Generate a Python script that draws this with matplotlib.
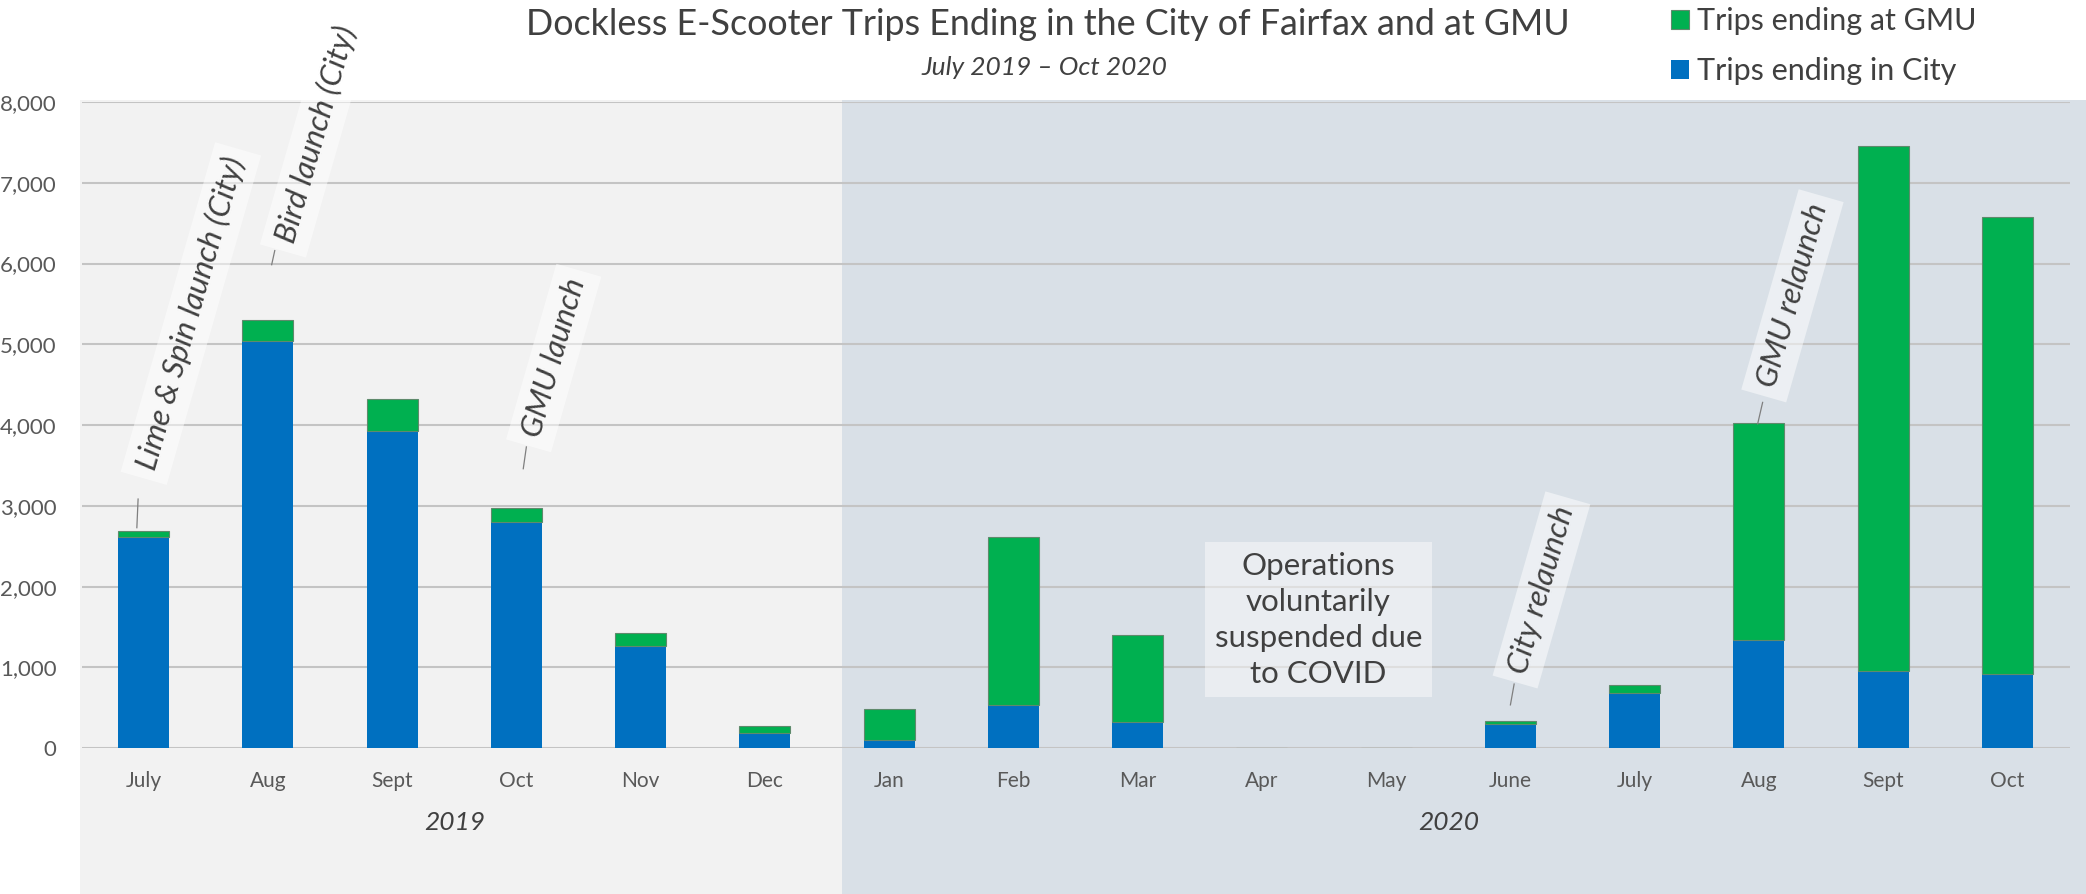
import numpy as np
import matplotlib.pyplot as plt
from matplotlib.patches import Rectangle, Patch
from matplotlib.ticker import FuncFormatter
import matplotlib.transforms as mtransforms

plt.rcParams['font.family'] = ['Lato', 'DejaVu Sans']

# data
months = ["July", "Aug", "Sept", "Oct", "Nov", "Dec", "Jan", "Feb", "Mar",
          "Apr", "May", "June", "July", "Aug", "Sept", "Oct"]
city_trips = [2620, 5040, 3930, 2800, 1270, 190, 100, 530, 320, 0, 0, 300, 690, 1340, 960, 920]
gmu_trips = [70, 260, 390, 180, 160, 90, 380, 2080, 1080, 0, 0, 40, 95, 2680, 6500, 5660]
years = ["2019", "2020"]

BLUE = '#0070C0'
GREEN = '#00B050'
TXT = '#404040'
TICK = '#595959'

fig = plt.figure(figsize=(20.86, 8.94), dpi=100)
ax = fig.add_axes([0.0391, 0.163, 0.953, 0.723])
ax.patch.set_visible(False)

x = np.arange(len(months))
city = np.array(city_trips)
gmu = np.array(gmu_trips)

# shaded year panels, running down past the axis labels
trans = mtransforms.blended_transform_factory(ax.transData, ax.transAxes)
ax.add_patch(Rectangle((-0.51, -0.23), 6.13, 1.233, transform=trans,
                       fc='#F2F2F2', ec='none', zorder=0.1, clip_on=False))
ax.add_patch(Rectangle((5.62, -0.23), 12, 1.233, transform=trans,
                       fc='#D9E0E7', ec='none', zorder=0.1, clip_on=False))

ax.bar(x, city, width=0.41, color=BLUE, zorder=2, label='Trips ending in City')
ax.bar(x, gmu, width=0.41, bottom=city, color=GREEN, edgecolor='#5f8a6c',
       linewidth=0.8, zorder=2, label='Trips ending at GMU')

ax.set_xlim(-0.5, 15.5)
ax.set_ylim(0, 8000)
ax.set_yticks(range(0, 8001, 1000))
ax.yaxis.set_major_formatter(FuncFormatter(lambda v, p: f"{int(v):,}"))
ax.set_xticks(x)
ax.set_xticklabels(months)
ax.grid(axis='y', color='#C4C4C4', linewidth=1.5)
ax.set_axisbelow(True)
for s in ax.spines.values():
    s.set_visible(False)
ax.tick_params(length=0, colors=TICK, labelsize=15)
ax.tick_params(axis='x', pad=16)
ax.tick_params(axis='y', pad=18, labelsize=16)

# year labels under the month labels
ax.text(2.5, -0.115, years[0], transform=trans, ha='center', va='center',
        fontsize=19, style='italic', color=TXT)
ax.text(10.5, -0.115, years[1], transform=trans, ha='center', va='center',
        fontsize=19, style='italic', color=TXT)

# rotated event labels with leader lines
box = dict(boxstyle='square,pad=0.3', fc='white', ec='none', alpha=0.5)
notes = [
    ("Lime & Spin launch (City)", 0.38, 5380, (-0.055, -0.045), (2730, 3085)),
    ("Bird launch (City)", 1.39, 7600, (1.03, 1.055), (5985, 6160)),
    ("GMU launch", 3.30, 4830, (3.055, 3.08), (3460, 3730)),
    ("City relaunch", 11.25, 1960, (11.0, 11.03), (537, 795)),
    ("GMU relaunch", 13.27, 5600, (12.99, 13.03), (4015, 4281)),
]
for label, tx, ty, lx, ly in notes:
    ax.plot(lx, ly, color='#7f7f7f', linewidth=0.9, zorder=3)
    ax.text(tx, ty, label, rotation=74, ha='center', va='center', fontsize=22.5,
            style='italic', color=TXT, bbox=box, zorder=4, clip_on=False,
            rotation_mode='anchor')

ax.text(9.455, 1590, "Operations\nvoluntarily\nsuspended due\nto COVID",
        ha='center', va='center', fontsize=22.5, color=TXT, linespacing=1.35,
        bbox=dict(boxstyle='square,pad=0.3', fc='white', ec='none', alpha=0.45),
        zorder=4)

fig.text(0.5024, 0.973, "Dockless E-Scooter Trips Ending in the City of Fairfax and at GMU",
         ha='center', va='center', fontsize=25.8, color=TXT)
fig.text(0.5005, 0.925, "July 2019 \u2013 Oct 2020", ha='center', va='center',
         fontsize=19, style='italic', color=TXT)

handles = [Patch(fc=GREEN, ec='#5f8a6c', lw=0.8), Patch(fc=BLUE, ec='none')]
fig.legend(handles, ['Trips ending at GMU', 'Trips ending in City'],
           loc='upper left', bbox_to_anchor=(0.801, 0.992), frameon=False,
           fontsize=22, handlelength=0.6, handleheight=0.6, handletextpad=0.25,
           labelspacing=0.72, borderpad=0, borderaxespad=0, labelcolor=TXT)

fig.savefig('out.png', dpi=100)
